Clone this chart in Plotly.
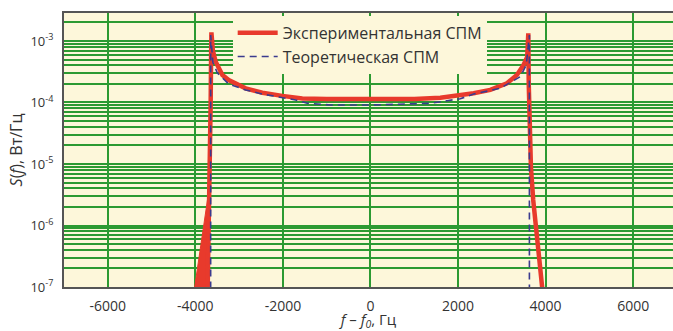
import plotly.graph_objects as go

# Experimental PSD (red)
x_exp = [-3720, -3690, -3665, -3650, -3640, -3633, -3600, -3535, -3382, -3238, -2851, -2470,
         -2014, -1558, -1000, -500, 0, 500, 1000, 1596, 1977, 2356, 2737, 3117, 3345, 3496,
         3580, 3605, 3615, 3633, 3665, 3717, 3786, 3854, 3900, 3935]
y_exp = [8e-8, 1e-6, 5e-6, 1e-4, 6e-4, 1.38e-3, 7e-4, 4.6e-4, 2.8e-4, 2.32e-4, 1.70e-4, 1.44e-4,
         1.28e-4, 1.16e-4, 1.14e-4, 1.13e-4, 1.13e-4, 1.13e-4, 1.14e-4, 1.19e-4, 1.29e-4, 1.41e-4,
         1.60e-4, 2.05e-4, 2.8e-4, 4.07e-4,
         5.5e-4, 1.33e-3, 2e-4, 4e-5, 8.9e-6, 2.6e-6, 7.6e-7, 2.1e-7, 1.17e-7, 8e-8]

# Experimental low-level spread near the left edge
x_wedge = [-4035, -3672, -3715]
y_wedge = [8e-8, 4.6e-6, 8e-8]

# Theoretical PSD (dashed blue)
x_th = [-3650, -3650, -3600, -3496, -3231, -2851, -2470, -2014, -1710, -1444, -912, 0,
        981, 1368, 1749, 2052, 2356, 2965, 3421, 3558, 3630, 3630]
y_th = [1e-8, 1.25e-3, 4.5e-4, 3.0e-4, 1.98e-4, 1.6e-4, 1.37e-4, 1.22e-4, 1.1e-4, 9.7e-5, 9.1e-5, 9.1e-5,
        9.35e-5, 9.7e-5, 1.07e-4, 1.15e-4, 1.37e-4, 1.7e-4, 2.63e-4, 4.07e-4, 1.25e-3, 1e-8]

x_ticks = [-6000, -4000, -2000, 0, 2000, 4000, 6000]
decades = [-7, -6, -5, -4, -3]

y_tickvals = []
y_ticktext = []
for d in decades:
    for k in range(1, 10):
        y_tickvals.append(k * 10.0 ** d)
        y_ticktext.append(f"10<sup>{d}</sup>" if k == 1 else "")

RED = "#e83a2c"
BLUE = "#3b3b8e"
GRID = "#2c9a32"
FONT = "Open Sans"

fig = go.Figure()
fig.add_trace(go.Scatter(x=x_wedge, y=y_wedge, mode="lines", fill="toself",
                         fillcolor=RED, line=dict(color=RED, width=1), showlegend=False,
                         hoverinfo="skip"))
fig.add_trace(go.Scatter(x=x_exp, y=y_exp, mode="lines", name="Экспериментальная СПМ",
                         line=dict(color=RED, width=4.5)))
fig.add_trace(go.Scatter(x=x_th, y=y_th, mode="lines", name="Теоретическая СПМ",
                         line=dict(color=BLUE, width=1.6, dash="7px,5px")))

fig.update_layout(
    width=673, height=331,
    margin=dict(l=64, r=0, t=13, b=44, autoexpand=False),
    paper_bgcolor="white",
    plot_bgcolor="#fdf7da",
    font=dict(family=FONT, size=13, color="#333333"),
    legend=dict(x=0.277, y=0.99, xanchor="left", yanchor="top",
                bgcolor="#fdf7da", font=dict(size=16, color="#333333"),
                tracegroupgap=0, itemwidth=40),
    showlegend=True,
)
fig.update_xaxes(
    range=[-7000, 6910], tickvals=x_ticks, ticktext=[str(v) for v in x_ticks],
    tickfont=dict(size=14), automargin=False,
    showgrid=True, gridcolor=GRID, gridwidth=1.5, zeroline=False,
    showline=True, linecolor="#555555", linewidth=2, mirror=True,
    ticks="outside", ticklen=5, tickcolor="rgba(0,0,0,0)",
    title=dict(text="<i>f</i> – <i>f</i><sub><i>0</i></sub>, Гц", font=dict(size=15), standoff=3),
)
fig.update_yaxes(
    type="log", range=[-7, -2.545], tickvals=y_tickvals, ticktext=y_ticktext,
    tickfont=dict(size=13), automargin=False,
    showgrid=True, gridcolor=GRID, gridwidth=1.5, zeroline=False,
    showline=True, linecolor="#555555", linewidth=2,
    ticks="outside", ticklen=6, tickcolor="rgba(0,0,0,0)",
    title=dict(text="<i>S</i>(<i>f</i>), Вт/Гц", font=dict(size=16), standoff=4),
)

fig.write_html(
    "out.html",
    config={"displayModeBar": False},
    post_script=(
        "var s=document.createElement('style');"
        "s.textContent='html,body{margin:0!important;padding:0!important;overflow:hidden!important}"
        "::-webkit-scrollbar{display:none;width:0;height:0}';"
        "document.head.appendChild(s);"
    ),
)
